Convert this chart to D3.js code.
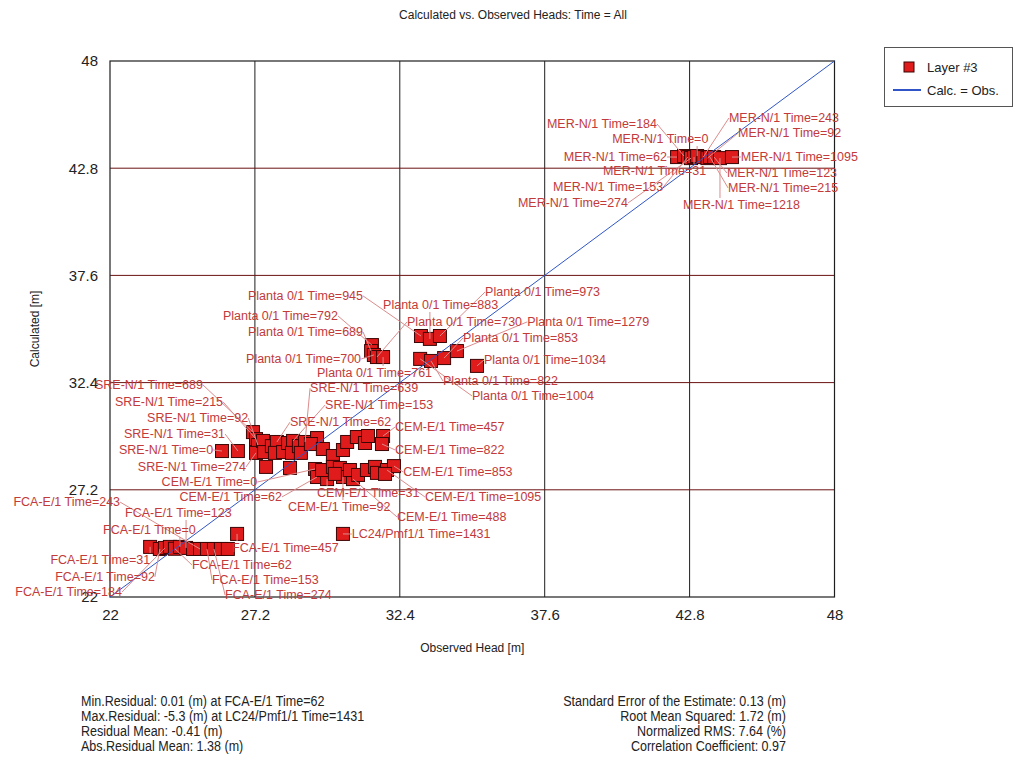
<!DOCTYPE html>
<html>
<head>
<meta charset="utf-8">
<script src="https://cdn.jsdelivr.net/npm/d3@7"></script>
<style>
  body { margin: 0; background: #fff; }
  svg text { font-family: "Liberation Sans", Arial, sans-serif; }
</style>
</head>
<body>
<svg id="chart" width="1017" height="763"></svg>
<script>
// Axis ticks (both axes share the same range)
const tickValues = [22, 27.2, 32.4, 37.6, 42.8, 48];

// FCA-E/1
const fcaObserved   = [23.44, 23.79, 23.97, 24.15, 24.33, 24.51, 24.73, 24.98, 25.23, 25.48, 25.73, 25.98, 26.23, 26.56];
const fcaCalculated = [24.43, 24.33, 24.38, 24.43, 24.34, 24.43, 24.38, 24.33, 24.33, 24.33, 24.33, 24.33, 24.33, 25.06];
const fcaTimes      = [31, 92, 184, null, 62, 0, 123, null, 243, 153, 274, null, null, 457];

// SRE-N/1
const sreObserved   = [26.02, 26.59, 27.13, 27.24, 27.31, 27.24, 27.49, 27.53, 27.60, 27.81, 27.99, 27.92, 28.21, 28.39, 28.57, 28.53, 28.46, 28.78, 29.00, 28.85, 29.43, 29.21];
const sreCalculated = [29.08, 29.08, 30.00, 29.66, 29.37, 28.99, 29.57, 29.03, 28.31, 29.32, 29.52, 28.99, 29.03, 29.47, 29.57, 28.99, 28.26, 29.32, 29.52, 28.99, 29.71, 29.42];
const sreTimes      = [0, 31, 689, 215, 92, 274, null, null, null, null, 62, null, null, null, 153, null, null, null, 639, null, null, null];

// CEM-E/1
const cemObserved   = [29.64, 30.00, 30.36, 30.51, 30.86, 31.15, 31.26, 31.80, 31.76, 29.36, 29.43, 29.79, 29.61, 30.00, 30.25, 30.36, 30.72, 30.61, 30.90, 31.22, 31.51, 31.58, 31.94, 32.19, 31.87, 30.07];
const cemCalculated = [29.18, 28.84, 29.13, 29.52, 29.76, 29.47, 29.81, 29.81, 29.42, 28.21, 27.82, 27.72, 28.16, 28.31, 28.26, 27.82, 27.72, 28.16, 27.92, 28.16, 28.31, 28.02, 28.16, 28.35, 27.97, 27.97];
const cemTimes      = [null, null, null, null, null, null, null, 457, 822, 0, 62, 31, null, null, null, 92, 488, null, null, null, null, null, 1095, 853, null, null];

// Planta 0/1
const plantaObserved   = [31.40, 31.37, 31.47, 31.58, 31.80, 33.16, 33.48, 33.84, 33.13, 33.52, 33.99, 34.45, 35.17];
const plantaCalculated = [34.22, 33.93, 33.74, 33.64, 33.64, 34.66, 34.52, 34.66, 33.55, 33.45, 33.59, 33.93, 33.21];
const plantaTimes      = [792, 689, 700, 730, 761, 945, 883, 973, 1004, 822, 853, 1279, 1034];

// LC24/Pmf1/1
const lcObserved   = [30.36];
const lcCalculated = [25.06];
const lcTimes      = [1431];

// MER-N/1
const merObserved   = [42.35, 42.60, 42.74, 42.85, 42.96, 43.07, 43.29, 43.44, 43.53, 43.68, 43.89, 44.32];
const merCalculated = [43.34, 43.39, 43.34, 43.29, 43.34, 43.39, 43.34, 43.29, 43.34, 43.34, 43.29, 43.34];
const merTimes      = [62, 184, 153, 274, 31, 0, 243, 92, 215, 123, 1218, 1095];

// Callout placement, in axis units: [well, time, observed, calculated, anchor]
const callouts = [
  ["MER-N/1", 184, 41.63, 44.75, "end"], ["MER-N/1", 243, 44.21, 45.04, "start"],
  ["MER-N/1", 0, 40.02, 44.02, "start"], ["MER-N/1", 92, 44.54, 44.31, "start"],
  ["MER-N/1", 62, 41.99, 43.15, "end"], ["MER-N/1", 1095, 44.64, 43.15, "start"],
  ["MER-N/1", 31, 39.69, 42.47, "start"], ["MER-N/1", 123, 44.14, 42.37, "start"],
  ["MER-N/1", 153, 41.85, 41.69, "end"], ["MER-N/1", 215, 44.18, 41.65, "start"],
  ["MER-N/1", 274, 40.59, 40.92, "end"], ["MER-N/1", 1218, 42.56, 40.82, "start"],

  ["Planta 0/1", 945, 31.08, 36.41, "end"], ["Planta 0/1", 883, 31.80, 35.97, "start"],
  ["Planta 0/1", 973, 35.46, 36.60, "start"], ["Planta 0/1", 792, 30.18, 35.44, "end"],
  ["Planta 0/1", 730, 32.66, 35.15, "start"], ["Planta 0/1", 1279, 36.97, 35.15, "start"],
  ["Planta 0/1", 689, 31.08, 34.66, "end"], ["Planta 0/1", 853, 34.67, 34.37, "start"],
  ["Planta 0/1", 700, 31.01, 33.35, "end"], ["Planta 0/1", 1034, 35.42, 33.30, "start"],
  ["Planta 0/1", 761, 29.43, 32.67, "start"], ["Planta 0/1", 822, 33.95, 32.28, "start"],
  ["Planta 0/1", 1004, 34.99, 31.56, "start"],

  ["SRE-N/1", 689, 21.46, 32.09, "start"], ["SRE-N/1", 215, 22.18, 31.27, "start"],
  ["SRE-N/1", 92, 23.33, 30.49, "start"], ["SRE-N/1", 31, 26.13, 29.71, "end"],
  ["SRE-N/1", 0, 25.70, 28.94, "end"], ["SRE-N/1", 274, 23.00, 28.11, "start"],
  ["SRE-N/1", 639, 29.18, 31.94, "start"], ["SRE-N/1", 153, 29.72, 31.12, "start"],
  ["SRE-N/1", 62, 28.46, 30.29, "start"],

  ["CEM-E/1", 0, 27.28, 27.38, "end"], ["CEM-E/1", 62, 28.17, 26.66, "end"],
  ["CEM-E/1", 31, 29.43, 26.85, "start"], ["CEM-E/1", 92, 28.39, 26.17, "start"],
  ["CEM-E/1", 457, 32.23, 30.05, "start"], ["CEM-E/1", 822, 32.23, 28.94, "start"],
  ["CEM-E/1", 853, 32.52, 27.87, "start"], ["CEM-E/1", 1095, 33.30, 26.66, "start"],
  ["CEM-E/1", 488, 32.30, 25.69, "start"],

  ["LC24/Pmf1/1", 1431, 30.68, 24.86, "start"],

  ["FCA-E/1", 243, 22.36, 26.41, "end"], ["FCA-E/1", 123, 22.54, 25.88, "start"],
  ["FCA-E/1", 0, 21.75, 25.06, "start"], ["FCA-E/1", 31, 23.44, 23.60, "end"],
  ["FCA-E/1", 92, 23.61, 22.78, "end"], ["FCA-E/1", 184, 22.43, 22.05, "end"],
  ["FCA-E/1", 457, 26.38, 24.18, "start"], ["FCA-E/1", 62, 24.94, 23.36, "start"],
  ["FCA-E/1", 153, 25.66, 22.63, "start"], ["FCA-E/1", 274, 26.13, 21.90, "start"]
];

// Summary statistics
const statsLeft = [
  "Min.Residual: 0.01 (m) at FCA-E/1 Time=62",
  "Max.Residual: -5.3 (m) at LC24/Pmf1/1 Time=1431",
  "Residual Mean: -0.41 (m)",
  "Abs.Residual Mean: 1.38 (m)"
];
const statsRight = [
  "Standard Error of the Estimate: 0.13 (m)",
  "Root Mean Squared: 1.72 (m)",
  "Normalized RMS: 7.64 (%)",
  "Correlation Coefficient: 0.97"
];

// ---- build the point table ----
const series = [
  ["FCA-E/1", fcaObserved, fcaCalculated, fcaTimes],
  ["SRE-N/1", sreObserved, sreCalculated, sreTimes],
  ["CEM-E/1", cemObserved, cemCalculated, cemTimes],
  ["Planta 0/1", plantaObserved, plantaCalculated, plantaTimes],
  ["LC24/Pmf1/1", lcObserved, lcCalculated, lcTimes],
  ["MER-N/1", merObserved, merCalculated, merTimes]
];
const points = [];
series.forEach(([well, obs, calc, times]) => {
  obs.forEach((o, i) => points.push({ well, obs: o, calc: calc[i], time: times[i] }));
});

const svg = d3.select("#chart");
const plotLeft = 110, plotRight = 834.5, plotTop = 61, plotBottom = 597;
const x = d3.scaleLinear().domain([22, 48]).range([plotLeft, plotRight]);
const y = d3.scaleLinear().domain([22, 48]).range([plotBottom, plotTop]);

// Title
svg.append("text").attr("x", 513).attr("y", 19).attr("text-anchor", "middle")
  .attr("font-size", 12).attr("fill", "#222").text("Calculated vs. Observed Heads: Time = All");

// Grid
const grid = svg.append("g");
const inner = tickValues.slice(1, -1);
grid.selectAll("line.v").data(inner).join("line").attr("class", "v")
  .attr("x1", d => x(d)).attr("x2", d => x(d)).attr("y1", plotTop).attr("y2", plotBottom)
  .attr("stroke", "#1e1e1e").attr("stroke-width", 1);
grid.selectAll("line.h").data(inner).join("line").attr("class", "h")
  .attr("y1", d => y(d)).attr("y2", d => y(d)).attr("x1", plotLeft).attr("x2", plotRight)
  .attr("stroke", "#6a1212").attr("stroke-width", 1);
svg.append("rect").attr("x", plotLeft).attr("y", plotTop)
  .attr("width", plotRight - plotLeft).attr("height", plotBottom - plotTop)
  .attr("fill", "none").attr("stroke", "#1e1e1e").attr("stroke-width", 1.2);

// Axes (labels only, frame drawn above)
const xAxis = d3.axisBottom(x).tickValues(tickValues).tickSize(0).tickPadding(12).tickFormat(d3.format("~g"));
const yAxis = d3.axisLeft(y).tickValues(tickValues).tickSize(0).tickPadding(12).tickFormat(d3.format("~g"));
const gx = svg.append("g").attr("transform", `translate(0,${plotBottom})`).call(xAxis);
const gy = svg.append("g").attr("transform", `translate(${plotLeft},0)`).call(yAxis);
[gx, gy].forEach(g => {
  g.select(".domain").remove();
  g.selectAll("text").attr("font-size", 15).attr("fill", "#222")
    .style("font-family", '"Liberation Sans", Arial, sans-serif');
});

svg.append("text").attr("x", (plotLeft + plotRight) / 2).attr("y", 652).attr("text-anchor", "middle")
  .attr("font-size", 12).attr("fill", "#222").text("Observed Head [m]");
svg.append("text").attr("transform", `translate(39,${(plotTop + plotBottom) / 2}) rotate(-90)`)
  .attr("text-anchor", "middle").attr("font-size", 12).attr("fill", "#222").text("Calculated [m]");

// Markers
const size = 13;
svg.append("g").selectAll("rect").data(points).join("rect")
  .attr("x", d => x(d.obs) - size / 2).attr("y", d => y(d.calc) - size / 2)
  .attr("width", size).attr("height", size)
  .attr("fill", "#e01b1b").attr("stroke", "#3c0505").attr("stroke-width", 1);

// 1:1 line
svg.append("line").attr("x1", x(22)).attr("y1", y(22)).attr("x2", x(48)).attr("y2", y(48))
  .attr("stroke", "#2f55c8").attr("stroke-width", 1);

// Callouts with leader lines
const leaderG = svg.append("g");
const labelG = svg.append("g");
callouts.forEach(([well, time, lo, lc, anchor]) => {
  const p = points.find(d => d.well === well && d.time === time);
  if (!p) return;
  const t = labelG.append("text").attr("x", x(lo)).attr("y", y(lc)).attr("text-anchor", anchor)
    .attr("font-size", 12.5).attr("fill", "#c23a3a").text(`${well} Time=${time}`);
  const bb = t.node().getBBox();
  const px = x(p.obs), py = y(p.calc);
  const midY = bb.y + bb.height / 2;
  let ex, ey;
  if (px < bb.x) { ex = bb.x; ey = midY; }
  else if (px > bb.x + bb.width) { ex = bb.x + bb.width; ey = midY; }
  else { ex = px; ey = py < bb.y ? bb.y : bb.y + bb.height; }
  leaderG.append("line").attr("x1", px).attr("y1", py).attr("x2", ex).attr("y2", ey)
    .attr("stroke", "#dc8c8c").attr("stroke-width", 1);
});

// Legend
const lg = svg.append("g");
lg.append("rect").attr("x", 884.5).attr("y", 47.5).attr("width", 128).attr("height", 59)
  .attr("fill", "#fff").attr("stroke", "#555").attr("stroke-width", 1);
lg.append("rect").attr("x", 904).attr("y", 62).attr("width", 10).attr("height", 10)
  .attr("fill", "#e01b1b").attr("stroke", "#3c0505");
lg.append("text").attr("x", 927).attr("y", 71.5).attr("font-size", 13).attr("fill", "#222").text("Layer #3");
lg.append("line").attr("x1", 893).attr("x2", 921).attr("y1", 90).attr("y2", 90)
  .attr("stroke", "#2f55c8").attr("stroke-width", 2);
lg.append("text").attr("x", 927).attr("y", 94.5).attr("font-size", 13).attr("fill", "#222").text("Calc. = Obs.");

// Statistics block, set in a condensed face
const st = svg.append("g");
function condensed(sel) {
  sel.each(function () {
    const len = this.getComputedTextLength();
    d3.select(this).attr("textLength", len * 0.895).attr("lengthAdjust", "spacingAndGlyphs");
  });
}
st.selectAll("text.l").data(statsLeft).join("text").attr("class", "l")
  .attr("x", 81).attr("y", (d, i) => 706 + i * 15).attr("font-size", 14).attr("fill", "#222")
  .text(d => d).call(condensed);
st.selectAll("text.r").data(statsRight).join("text").attr("class", "r")
  .attr("x", 786).attr("y", (d, i) => 706 + i * 15).attr("text-anchor", "end")
  .attr("font-size", 14).attr("fill", "#222").text(d => d).call(condensed);
</script>
</body>
</html>
